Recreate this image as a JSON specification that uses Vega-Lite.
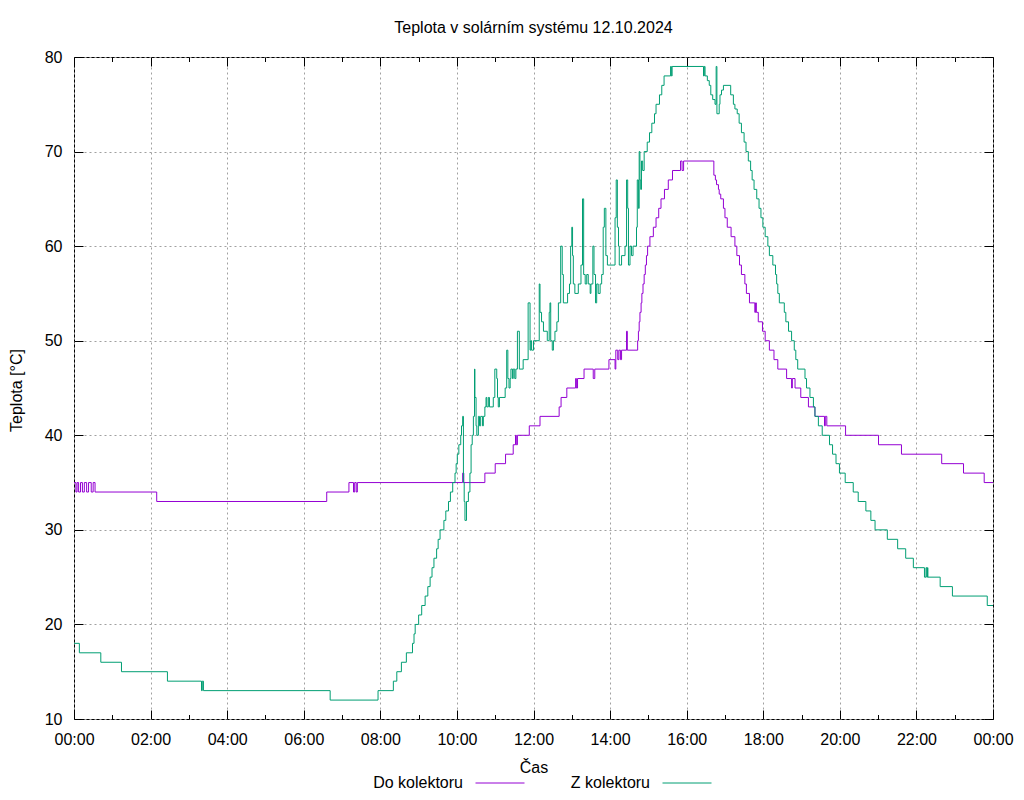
{
  "$schema": "https://vega.github.io/schema/vega-lite/v6.json",
  "width": 919,
  "height": 662,
  "autosize": {"type": "none"},
  "padding": {"left": 74, "top": 57, "right": 31, "bottom": 81},
  "title": {"text": "Teplota v solárním systému 12.10.2024", "frame": "group", "anchor": "middle", "offset": 0, "baseline": "alphabetic", "font": "Liberation Sans", "fontSize": 16, "fontWeight": "normal", "color": "black"},
  "config": {
    "view": {"stroke": "black", "strokeWidth": 1},
    "font": "Liberation Sans",
    "axis": {"labelFont": "Liberation Sans", "labelFontSize": 16, "labelColor": "black", "titleFont": "Liberation Sans", "titleFontSize": 16, "titleFontWeight": "normal", "titleColor": "black", "tickColor": "black", "tickWidth": 1, "domain": false, "gridColor": "#a0a0a0", "gridDash": [2, 3], "gridWidth": 1},
    "legend": {"labelFont": "Liberation Sans", "labelFontSize": 16, "labelColor": "black"}
  },
  "data": {"values": [
    {"cas":0,"serie":"Do kolektoru","teplota":35},{"cas":0.05,"serie":"Do kolektoru","teplota":34},{"cas":0.08,"serie":"Do kolektoru","teplota":35},{"cas":0.12,"serie":"Do kolektoru","teplota":34},{"cas":0.17,"serie":"Do kolektoru","teplota":35},{"cas":0.22,"serie":"Do kolektoru","teplota":34},{"cas":0.27,"serie":"Do kolektoru","teplota":35},{"cas":0.33,"serie":"Do kolektoru","teplota":34},{"cas":0.38,"serie":"Do kolektoru","teplota":35},{"cas":0.45,"serie":"Do kolektoru","teplota":34},{"cas":0.5,"serie":"Do kolektoru","teplota":35},{"cas":0.55,"serie":"Do kolektoru","teplota":34},{"cas":2.16,"serie":"Do kolektoru","teplota":33},{"cas":6.6,"serie":"Do kolektoru","teplota":34},{"cas":7.18,"serie":"Do kolektoru","teplota":35},{"cas":7.3,"serie":"Do kolektoru","teplota":34},{"cas":7.33,"serie":"Do kolektoru","teplota":35},{"cas":7.37,"serie":"Do kolektoru","teplota":34},{"cas":7.4,"serie":"Do kolektoru","teplota":35},{"cas":10.15,"serie":"Do kolektoru","teplota":36},{"cas":10.18,"serie":"Do kolektoru","teplota":35},{"cas":10.73,"serie":"Do kolektoru","teplota":36},{"cas":11.0,"serie":"Do kolektoru","teplota":37},{"cas":11.27,"serie":"Do kolektoru","teplota":38},{"cas":11.47,"serie":"Do kolektoru","teplota":39},{"cas":11.53,"serie":"Do kolektoru","teplota":40},{"cas":11.55,"serie":"Do kolektoru","teplota":39},{"cas":11.58,"serie":"Do kolektoru","teplota":40},{"cas":11.89,"serie":"Do kolektoru","teplota":41},{"cas":12.17,"serie":"Do kolektoru","teplota":42},{"cas":12.67,"serie":"Do kolektoru","teplota":43},{"cas":12.72,"serie":"Do kolektoru","teplota":44},{"cas":12.87,"serie":"Do kolektoru","teplota":45},{"cas":13.1,"serie":"Do kolektoru","teplota":46},{"cas":13.12,"serie":"Do kolektoru","teplota":45},{"cas":13.15,"serie":"Do kolektoru","teplota":46},{"cas":13.32,"serie":"Do kolektoru","teplota":47},{"cas":13.56,"serie":"Do kolektoru","teplota":46},{"cas":13.6,"serie":"Do kolektoru","teplota":47},{"cas":13.97,"serie":"Do kolektoru","teplota":48},{"cas":14.13,"serie":"Do kolektoru","teplota":47},{"cas":14.15,"serie":"Do kolektoru","teplota":49},{"cas":14.2,"serie":"Do kolektoru","teplota":48},{"cas":14.23,"serie":"Do kolektoru","teplota":49},{"cas":14.27,"serie":"Do kolektoru","teplota":48},{"cas":14.3,"serie":"Do kolektoru","teplota":49},{"cas":14.43,"serie":"Do kolektoru","teplota":51},{"cas":14.45,"serie":"Do kolektoru","teplota":49},{"cas":14.72,"serie":"Do kolektoru","teplota":50},{"cas":14.74,"serie":"Do kolektoru","teplota":51},{"cas":14.76,"serie":"Do kolektoru","teplota":52},{"cas":14.78,"serie":"Do kolektoru","teplota":53},{"cas":14.81,"serie":"Do kolektoru","teplota":54},{"cas":14.83,"serie":"Do kolektoru","teplota":55},{"cas":14.86,"serie":"Do kolektoru","teplota":56},{"cas":14.89,"serie":"Do kolektoru","teplota":57},{"cas":14.92,"serie":"Do kolektoru","teplota":58},{"cas":14.95,"serie":"Do kolektoru","teplota":59},{"cas":14.98,"serie":"Do kolektoru","teplota":60},{"cas":15.04,"serie":"Do kolektoru","teplota":61},{"cas":15.13,"serie":"Do kolektoru","teplota":62},{"cas":15.2,"serie":"Do kolektoru","teplota":63},{"cas":15.27,"serie":"Do kolektoru","teplota":64},{"cas":15.33,"serie":"Do kolektoru","teplota":65},{"cas":15.42,"serie":"Do kolektoru","teplota":66},{"cas":15.52,"serie":"Do kolektoru","teplota":67},{"cas":15.63,"serie":"Do kolektoru","teplota":68},{"cas":15.84,"serie":"Do kolektoru","teplota":69},{"cas":15.88,"serie":"Do kolektoru","teplota":68},{"cas":15.92,"serie":"Do kolektoru","teplota":69},{"cas":16.71,"serie":"Do kolektoru","teplota":67.5},{"cas":16.75,"serie":"Do kolektoru","teplota":67},{"cas":16.78,"serie":"Do kolektoru","teplota":66.5},{"cas":16.83,"serie":"Do kolektoru","teplota":66},{"cas":16.85,"serie":"Do kolektoru","teplota":65.5},{"cas":16.89,"serie":"Do kolektoru","teplota":65},{"cas":16.96,"serie":"Do kolektoru","teplota":64},{"cas":17.0,"serie":"Do kolektoru","teplota":63},{"cas":17.06,"serie":"Do kolektoru","teplota":62},{"cas":17.16,"serie":"Do kolektoru","teplota":61},{"cas":17.26,"serie":"Do kolektoru","teplota":60},{"cas":17.31,"serie":"Do kolektoru","teplota":59},{"cas":17.38,"serie":"Do kolektoru","teplota":58},{"cas":17.43,"serie":"Do kolektoru","teplota":57},{"cas":17.52,"serie":"Do kolektoru","teplota":56},{"cas":17.56,"serie":"Do kolektoru","teplota":55},{"cas":17.64,"serie":"Do kolektoru","teplota":54},{"cas":17.78,"serie":"Do kolektoru","teplota":53},{"cas":17.8,"serie":"Do kolektoru","teplota":54},{"cas":17.82,"serie":"Do kolektoru","teplota":53},{"cas":17.87,"serie":"Do kolektoru","teplota":52},{"cas":17.98,"serie":"Do kolektoru","teplota":51},{"cas":18.05,"serie":"Do kolektoru","teplota":50},{"cas":18.16,"serie":"Do kolektoru","teplota":49},{"cas":18.28,"serie":"Do kolektoru","teplota":48},{"cas":18.38,"serie":"Do kolektoru","teplota":47},{"cas":18.61,"serie":"Do kolektoru","teplota":46},{"cas":18.74,"serie":"Do kolektoru","teplota":45},{"cas":18.76,"serie":"Do kolektoru","teplota":46},{"cas":18.83,"serie":"Do kolektoru","teplota":45},{"cas":18.98,"serie":"Do kolektoru","teplota":44},{"cas":19.18,"serie":"Do kolektoru","teplota":43},{"cas":19.35,"serie":"Do kolektoru","teplota":42},{"cas":19.6,"serie":"Do kolektoru","teplota":41},{"cas":19.62,"serie":"Do kolektoru","teplota":42},{"cas":19.66,"serie":"Do kolektoru","teplota":41},{"cas":20.15,"serie":"Do kolektoru","teplota":40},{"cas":21.01,"serie":"Do kolektoru","teplota":39},{"cas":21.61,"serie":"Do kolektoru","teplota":38},{"cas":22.66,"serie":"Do kolektoru","teplota":37},{"cas":23.23,"serie":"Do kolektoru","teplota":36},{"cas":23.77,"serie":"Do kolektoru","teplota":35},{"cas":24,"serie":"Do kolektoru","teplota":35},
    {"cas":0,"serie":"Z kolektoru","teplota":18},{"cas":0.14,"serie":"Z kolektoru","teplota":17},{"cas":0.7,"serie":"Z kolektoru","teplota":16},{"cas":1.24,"serie":"Z kolektoru","teplota":15},{"cas":2.44,"serie":"Z kolektoru","teplota":14},{"cas":3.33,"serie":"Z kolektoru","teplota":13},{"cas":3.35,"serie":"Z kolektoru","teplota":14},{"cas":3.38,"serie":"Z kolektoru","teplota":13},{"cas":6.69,"serie":"Z kolektoru","teplota":12},{"cas":7.94,"serie":"Z kolektoru","teplota":13},{"cas":8.34,"serie":"Z kolektoru","teplota":14},{"cas":8.43,"serie":"Z kolektoru","teplota":15},{"cas":8.55,"serie":"Z kolektoru","teplota":16},{"cas":8.68,"serie":"Z kolektoru","teplota":17},{"cas":8.84,"serie":"Z kolektoru","teplota":18},{"cas":8.88,"serie":"Z kolektoru","teplota":19},{"cas":8.91,"serie":"Z kolektoru","teplota":20},{"cas":9.0,"serie":"Z kolektoru","teplota":21},{"cas":9.08,"serie":"Z kolektoru","teplota":22},{"cas":9.17,"serie":"Z kolektoru","teplota":23},{"cas":9.24,"serie":"Z kolektoru","teplota":24},{"cas":9.3,"serie":"Z kolektoru","teplota":25},{"cas":9.35,"serie":"Z kolektoru","teplota":26},{"cas":9.4,"serie":"Z kolektoru","teplota":27},{"cas":9.47,"serie":"Z kolektoru","teplota":28},{"cas":9.51,"serie":"Z kolektoru","teplota":29},{"cas":9.56,"serie":"Z kolektoru","teplota":30},{"cas":9.66,"serie":"Z kolektoru","teplota":31},{"cas":9.71,"serie":"Z kolektoru","teplota":32},{"cas":9.78,"serie":"Z kolektoru","teplota":33},{"cas":9.83,"serie":"Z kolektoru","teplota":34},{"cas":9.89,"serie":"Z kolektoru","teplota":35},{"cas":9.95,"serie":"Z kolektoru","teplota":36},{"cas":9.98,"serie":"Z kolektoru","teplota":37},{"cas":10.01,"serie":"Z kolektoru","teplota":38},{"cas":10.05,"serie":"Z kolektoru","teplota":39},{"cas":10.1,"serie":"Z kolektoru","teplota":40},{"cas":10.12,"serie":"Z kolektoru","teplota":41},{"cas":10.15,"serie":"Z kolektoru","teplota":42},{"cas":10.17,"serie":"Z kolektoru","teplota":35},{"cas":10.19,"serie":"Z kolektoru","teplota":33},{"cas":10.21,"serie":"Z kolektoru","teplota":31},{"cas":10.25,"serie":"Z kolektoru","teplota":33},{"cas":10.3,"serie":"Z kolektoru","teplota":34},{"cas":10.34,"serie":"Z kolektoru","teplota":36},{"cas":10.37,"serie":"Z kolektoru","teplota":39},{"cas":10.4,"serie":"Z kolektoru","teplota":40},{"cas":10.43,"serie":"Z kolektoru","teplota":42},{"cas":10.46,"serie":"Z kolektoru","teplota":47},{"cas":10.47,"serie":"Z kolektoru","teplota":44},{"cas":10.5,"serie":"Z kolektoru","teplota":41},{"cas":10.52,"serie":"Z kolektoru","teplota":40},{"cas":10.56,"serie":"Z kolektoru","teplota":42},{"cas":10.59,"serie":"Z kolektoru","teplota":41},{"cas":10.62,"serie":"Z kolektoru","teplota":42},{"cas":10.67,"serie":"Z kolektoru","teplota":41},{"cas":10.69,"serie":"Z kolektoru","teplota":42},{"cas":10.73,"serie":"Z kolektoru","teplota":43},{"cas":10.76,"serie":"Z kolektoru","teplota":44},{"cas":10.78,"serie":"Z kolektoru","teplota":43},{"cas":10.82,"serie":"Z kolektoru","teplota":44},{"cas":10.85,"serie":"Z kolektoru","teplota":43},{"cas":10.95,"serie":"Z kolektoru","teplota":44},{"cas":10.99,"serie":"Z kolektoru","teplota":47},{"cas":11.04,"serie":"Z kolektoru","teplota":46},{"cas":11.06,"serie":"Z kolektoru","teplota":44},{"cas":11.08,"serie":"Z kolektoru","teplota":43},{"cas":11.11,"serie":"Z kolektoru","teplota":44},{"cas":11.26,"serie":"Z kolektoru","teplota":45},{"cas":11.3,"serie":"Z kolektoru","teplota":49},{"cas":11.33,"serie":"Z kolektoru","teplota":46},{"cas":11.36,"serie":"Z kolektoru","teplota":45},{"cas":11.39,"serie":"Z kolektoru","teplota":46},{"cas":11.41,"serie":"Z kolektoru","teplota":47},{"cas":11.45,"serie":"Z kolektoru","teplota":46},{"cas":11.47,"serie":"Z kolektoru","teplota":47},{"cas":11.51,"serie":"Z kolektoru","teplota":46},{"cas":11.54,"serie":"Z kolektoru","teplota":47},{"cas":11.58,"serie":"Z kolektoru","teplota":51},{"cas":11.63,"serie":"Z kolektoru","teplota":47},{"cas":11.73,"serie":"Z kolektoru","teplota":48},{"cas":11.86,"serie":"Z kolektoru","teplota":54},{"cas":11.91,"serie":"Z kolektoru","teplota":49},{"cas":11.93,"serie":"Z kolektoru","teplota":50},{"cas":11.95,"serie":"Z kolektoru","teplota":49},{"cas":12.0,"serie":"Z kolektoru","teplota":50},{"cas":12.15,"serie":"Z kolektoru","teplota":56},{"cas":12.17,"serie":"Z kolektoru","teplota":53},{"cas":12.21,"serie":"Z kolektoru","teplota":52},{"cas":12.26,"serie":"Z kolektoru","teplota":51},{"cas":12.36,"serie":"Z kolektoru","teplota":50},{"cas":12.41,"serie":"Z kolektoru","teplota":53},{"cas":12.43,"serie":"Z kolektoru","teplota":54},{"cas":12.45,"serie":"Z kolektoru","teplota":50},{"cas":12.49,"serie":"Z kolektoru","teplota":49},{"cas":12.52,"serie":"Z kolektoru","teplota":50},{"cas":12.56,"serie":"Z kolektoru","teplota":51},{"cas":12.61,"serie":"Z kolektoru","teplota":52},{"cas":12.65,"serie":"Z kolektoru","teplota":54},{"cas":12.71,"serie":"Z kolektoru","teplota":60},{"cas":12.75,"serie":"Z kolektoru","teplota":57},{"cas":12.78,"serie":"Z kolektoru","teplota":54},{"cas":12.89,"serie":"Z kolektoru","teplota":55},{"cas":12.94,"serie":"Z kolektoru","teplota":56},{"cas":12.97,"serie":"Z kolektoru","teplota":60},{"cas":13.0,"serie":"Z kolektoru","teplota":62},{"cas":13.02,"serie":"Z kolektoru","teplota":59},{"cas":13.04,"serie":"Z kolektoru","teplota":56},{"cas":13.08,"serie":"Z kolektoru","teplota":55},{"cas":13.17,"serie":"Z kolektoru","teplota":56},{"cas":13.24,"serie":"Z kolektoru","teplota":58},{"cas":13.28,"serie":"Z kolektoru","teplota":65},{"cas":13.31,"serie":"Z kolektoru","teplota":57},{"cas":13.35,"serie":"Z kolektoru","teplota":56},{"cas":13.39,"serie":"Z kolektoru","teplota":57},{"cas":13.43,"serie":"Z kolektoru","teplota":56},{"cas":13.48,"serie":"Z kolektoru","teplota":55},{"cas":13.5,"serie":"Z kolektoru","teplota":56},{"cas":13.55,"serie":"Z kolektoru","teplota":60},{"cas":13.58,"serie":"Z kolektoru","teplota":57},{"cas":13.62,"serie":"Z kolektoru","teplota":54},{"cas":13.65,"serie":"Z kolektoru","teplota":56},{"cas":13.69,"serie":"Z kolektoru","teplota":55},{"cas":13.74,"serie":"Z kolektoru","teplota":56},{"cas":13.78,"serie":"Z kolektoru","teplota":57},{"cas":13.82,"serie":"Z kolektoru","teplota":62},{"cas":13.85,"serie":"Z kolektoru","teplota":64},{"cas":13.89,"serie":"Z kolektoru","teplota":59},{"cas":13.93,"serie":"Z kolektoru","teplota":58},{"cas":14.13,"serie":"Z kolektoru","teplota":63},{"cas":14.16,"serie":"Z kolektoru","teplota":67},{"cas":14.19,"serie":"Z kolektoru","teplota":62},{"cas":14.22,"serie":"Z kolektoru","teplota":60},{"cas":14.24,"serie":"Z kolektoru","teplota":58},{"cas":14.3,"serie":"Z kolektoru","teplota":59},{"cas":14.39,"serie":"Z kolektoru","teplota":60},{"cas":14.43,"serie":"Z kolektoru","teplota":67},{"cas":14.46,"serie":"Z kolektoru","teplota":64},{"cas":14.48,"serie":"Z kolektoru","teplota":58},{"cas":14.52,"serie":"Z kolektoru","teplota":60},{"cas":14.56,"serie":"Z kolektoru","teplota":59},{"cas":14.6,"serie":"Z kolektoru","teplota":60},{"cas":14.69,"serie":"Z kolektoru","teplota":62},{"cas":14.71,"serie":"Z kolektoru","teplota":67},{"cas":14.74,"serie":"Z kolektoru","teplota":64},{"cas":14.76,"serie":"Z kolektoru","teplota":70},{"cas":14.78,"serie":"Z kolektoru","teplota":67},{"cas":14.8,"serie":"Z kolektoru","teplota":66},{"cas":14.82,"serie":"Z kolektoru","teplota":69},{"cas":14.85,"serie":"Z kolektoru","teplota":68},{"cas":14.89,"serie":"Z kolektoru","teplota":70},{"cas":14.97,"serie":"Z kolektoru","teplota":71},{"cas":15.03,"serie":"Z kolektoru","teplota":72},{"cas":15.09,"serie":"Z kolektoru","teplota":73},{"cas":15.16,"serie":"Z kolektoru","teplota":74},{"cas":15.2,"serie":"Z kolektoru","teplota":75},{"cas":15.29,"serie":"Z kolektoru","teplota":76},{"cas":15.35,"serie":"Z kolektoru","teplota":77},{"cas":15.41,"serie":"Z kolektoru","teplota":78},{"cas":15.58,"serie":"Z kolektoru","teplota":79},{"cas":15.6,"serie":"Z kolektoru","teplota":78},{"cas":15.62,"serie":"Z kolektoru","teplota":79},{"cas":16.44,"serie":"Z kolektoru","teplota":78},{"cas":16.46,"serie":"Z kolektoru","teplota":79},{"cas":16.48,"serie":"Z kolektoru","teplota":78},{"cas":16.54,"serie":"Z kolektoru","teplota":77.5},{"cas":16.59,"serie":"Z kolektoru","teplota":77},{"cas":16.63,"serie":"Z kolektoru","teplota":76},{"cas":16.68,"serie":"Z kolektoru","teplota":75.5},{"cas":16.74,"serie":"Z kolektoru","teplota":75},{"cas":16.77,"serie":"Z kolektoru","teplota":79},{"cas":16.79,"serie":"Z kolektoru","teplota":74},{"cas":16.85,"serie":"Z kolektoru","teplota":75},{"cas":16.87,"serie":"Z kolektoru","teplota":76},{"cas":16.91,"serie":"Z kolektoru","teplota":76.5},{"cas":16.96,"serie":"Z kolektoru","teplota":77},{"cas":17.15,"serie":"Z kolektoru","teplota":76},{"cas":17.22,"serie":"Z kolektoru","teplota":75},{"cas":17.26,"serie":"Z kolektoru","teplota":74.5},{"cas":17.32,"serie":"Z kolektoru","teplota":74},{"cas":17.37,"serie":"Z kolektoru","teplota":73},{"cas":17.43,"serie":"Z kolektoru","teplota":72},{"cas":17.5,"serie":"Z kolektoru","teplota":71},{"cas":17.55,"serie":"Z kolektoru","teplota":70},{"cas":17.61,"serie":"Z kolektoru","teplota":69},{"cas":17.67,"serie":"Z kolektoru","teplota":68},{"cas":17.71,"serie":"Z kolektoru","teplota":67},{"cas":17.76,"serie":"Z kolektoru","teplota":66},{"cas":17.83,"serie":"Z kolektoru","teplota":65},{"cas":17.89,"serie":"Z kolektoru","teplota":64},{"cas":17.94,"serie":"Z kolektoru","teplota":63},{"cas":17.99,"serie":"Z kolektoru","teplota":62},{"cas":18.05,"serie":"Z kolektoru","teplota":61},{"cas":18.12,"serie":"Z kolektoru","teplota":60},{"cas":18.16,"serie":"Z kolektoru","teplota":59},{"cas":18.25,"serie":"Z kolektoru","teplota":58},{"cas":18.32,"serie":"Z kolektoru","teplota":57},{"cas":18.35,"serie":"Z kolektoru","teplota":56},{"cas":18.38,"serie":"Z kolektoru","teplota":55},{"cas":18.42,"serie":"Z kolektoru","teplota":54},{"cas":18.55,"serie":"Z kolektoru","teplota":53},{"cas":18.59,"serie":"Z kolektoru","teplota":52},{"cas":18.66,"serie":"Z kolektoru","teplota":51},{"cas":18.74,"serie":"Z kolektoru","teplota":50},{"cas":18.81,"serie":"Z kolektoru","teplota":49},{"cas":18.85,"serie":"Z kolektoru","teplota":48},{"cas":18.9,"serie":"Z kolektoru","teplota":47},{"cas":19.09,"serie":"Z kolektoru","teplota":46},{"cas":19.13,"serie":"Z kolektoru","teplota":45},{"cas":19.22,"serie":"Z kolektoru","teplota":44},{"cas":19.31,"serie":"Z kolektoru","teplota":43},{"cas":19.35,"serie":"Z kolektoru","teplota":42},{"cas":19.44,"serie":"Z kolektoru","teplota":41},{"cas":19.54,"serie":"Z kolektoru","teplota":40},{"cas":19.73,"serie":"Z kolektoru","teplota":39},{"cas":19.81,"serie":"Z kolektoru","teplota":38},{"cas":19.9,"serie":"Z kolektoru","teplota":37},{"cas":19.99,"serie":"Z kolektoru","teplota":36},{"cas":20.14,"serie":"Z kolektoru","teplota":35},{"cas":20.35,"serie":"Z kolektoru","teplota":34},{"cas":20.48,"serie":"Z kolektoru","teplota":33},{"cas":20.68,"serie":"Z kolektoru","teplota":32},{"cas":20.81,"serie":"Z kolektoru","teplota":31},{"cas":20.92,"serie":"Z kolektoru","teplota":30},{"cas":21.24,"serie":"Z kolektoru","teplota":29},{"cas":21.51,"serie":"Z kolektoru","teplota":28},{"cas":21.72,"serie":"Z kolektoru","teplota":27},{"cas":21.92,"serie":"Z kolektoru","teplota":26},{"cas":22.21,"serie":"Z kolektoru","teplota":25},{"cas":22.25,"serie":"Z kolektoru","teplota":26},{"cas":22.27,"serie":"Z kolektoru","teplota":25},{"cas":22.29,"serie":"Z kolektoru","teplota":26},{"cas":22.3,"serie":"Z kolektoru","teplota":25},{"cas":22.62,"serie":"Z kolektoru","teplota":24},{"cas":22.94,"serie":"Z kolektoru","teplota":23},{"cas":23.85,"serie":"Z kolektoru","teplota":22},{"cas":24,"serie":"Z kolektoru","teplota":22}
  ]},
  "layer": [
    {
      "mark": {"type": "line", "interpolate": "step-after", "strokeWidth": 1},
      "encoding": {
        "x": {"field": "cas", "type": "quantitative", "scale": {"domain": [0, 24], "nice": false, "zero": false},
              "axis": {"orient": "bottom", "values": [0,2,4,6,8,10,12,14,16,18,20,22,24], "ticks": false, "grid": true, "labelExpr": "(datum.value % 24 < 10 ? '0' : '') + (datum.value % 24) + ':00'", "labelBaseline": "alphabetic", "labelPadding": 25, "labelFlush": false, "labelOverlap": false, "title": "Čas", "titleBaseline": "alphabetic", "titleY": 53}},
        "y": {"field": "teplota", "type": "quantitative", "scale": {"domain": [10, 80], "nice": false, "zero": false},
              "axis": {"orient": "left", "values": [10,20,30,40,50,60,70,80], "ticks": false, "grid": true, "labelPadding": 12, "labelBaseline": "middle", "labelFlush": false, "labelOverlap": false, "title": "Teplota [°C]", "titleBaseline": "alphabetic", "titleX": -53, "titleY": 333}},
        "color": {"field": "serie", "type": "nominal", "scale": {"domain": ["Do kolektoru", "Z kolektoru"], "range": ["#9400d3", "#009e73"]},
                  "legend": {"orient": "none", "legendX": 401, "legendY": 701, "direction": "horizontal", "title": null, "symbolType": "stroke", "symbolSize": 2401, "symbolStrokeWidth": 1, "labelAlign": "right", "labelOffset": -62, "columnPadding": 43, "padding": 0, "labelLimit": 0}}
      }
    },
    {
      "mark": {"type": "line", "strokeOpacity": 0},
      "encoding": {
        "x": {"field": "cas", "type": "quantitative", "axis": {"orient": "bottom", "values": [0,2,4,6,8,10,12,14,16,18,20,22,24], "ticks": true, "tickSize": -9, "labels": false, "grid": false, "title": null}},
        "y": {"field": "teplota", "type": "quantitative", "axis": {"orient": "left", "values": [10,20,30,40,50,60,70,80], "ticks": true, "tickSize": -9, "labels": false, "grid": false, "title": null}}
      }
    },
    {
      "mark": {"type": "line", "strokeOpacity": 0},
      "encoding": {
        "x": {"field": "cas", "type": "quantitative", "axis": {"orient": "bottom", "values": [1,3,5,7,9,11,13,15,17,19,21,23], "ticks": true, "tickSize": -4.5, "labels": false, "grid": false, "title": null}},
        "y": {"field": "teplota", "type": "quantitative", "axis": {"orient": "right", "values": [10,20,30,40,50,60,70,80], "ticks": true, "tickSize": -9, "labels": false, "grid": false, "title": null}}
      }
    },
    {
      "mark": {"type": "line", "strokeOpacity": 0},
      "encoding": {
        "x": {"field": "cas", "type": "quantitative", "axis": {"orient": "top", "values": [0,2,4,6,8,10,12,14,16,18,20,22,24], "ticks": true, "tickSize": -9, "labels": false, "grid": false, "title": null}},
        "y": {"field": "teplota", "type": "quantitative", "axis": null}
      }
    },
    {
      "mark": {"type": "line", "strokeOpacity": 0},
      "encoding": {
        "x": {"field": "cas", "type": "quantitative", "axis": {"orient": "top", "values": [1,3,5,7,9,11,13,15,17,19,21,23], "ticks": true, "tickSize": -4.5, "labels": false, "grid": false, "title": null}},
        "y": {"field": "teplota", "type": "quantitative", "axis": null}
      }
    }
  ],
  "resolve": {"axis": {"x": "independent", "y": "independent"}}
}
